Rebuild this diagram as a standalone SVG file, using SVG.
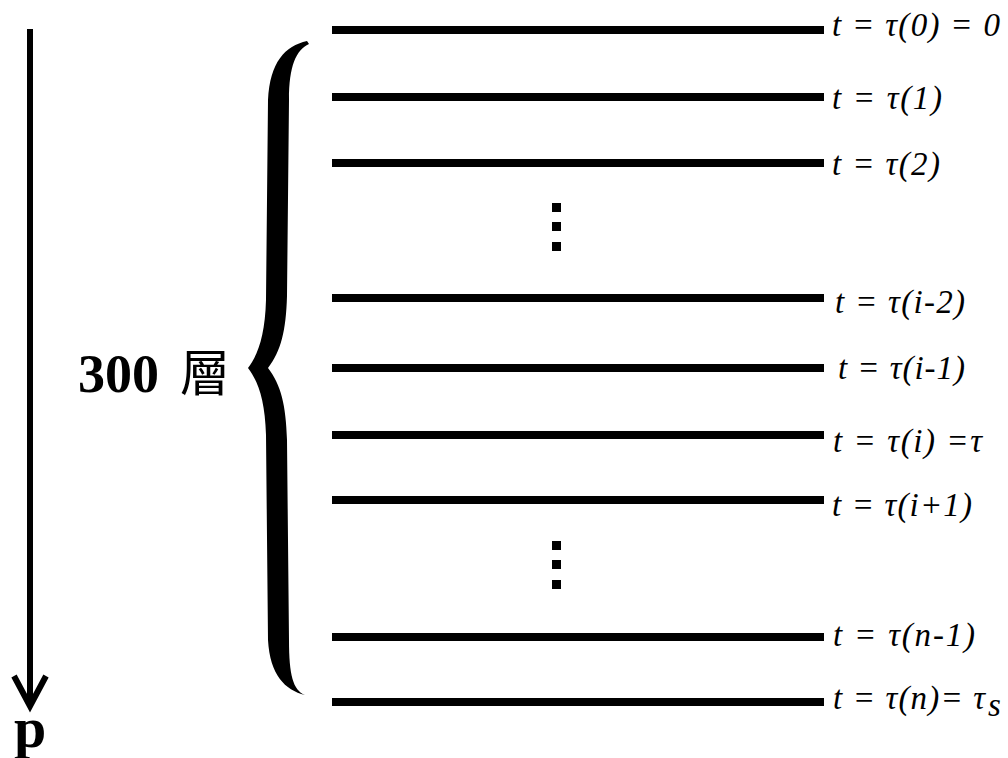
<svg xmlns="http://www.w3.org/2000/svg" width="1008" height="758" viewBox="0 0 1008 758">
<style>
.layer{stroke:#000;stroke-width:8;}
.lbl{font-family:"Liberation Serif","Times New Roman",serif;font-style:italic;font-size:33px;fill:#000;}
.dot{fill:#000;}
</style>
<rect width="1008" height="758" fill="#fff"/>
<g id="axis">
<line x1="30" y1="29" x2="30" y2="705" stroke="#000" stroke-width="6"/>
<polyline points="14,676 30,706 46,676" fill="none" stroke="#000" stroke-width="6"/>
<text x="14" y="747" font-family="Liberation Serif,serif" font-weight="bold" font-size="58">p</text>
</g>
<g id="brace">
<path d="M307,41 C285,46 270,62 268,100 L266,300 C265,335 258,355 248,368 C258,381 265,400 266,435 L268,640 C270,675 285,690 305,695 C293,690 289,675 289,640 L287,440 C286,405 281,385 268,368 C281,351 286,331 287,296 L289,100 C289,66 296,50 309,44 Z" fill="#000"/>
<text x="78" y="392" font-family="Liberation Serif,serif" font-weight="bold" font-size="54">300</text>
<text x="180" y="391" font-family="Noto Sans CJK TC,Noto Sans CJK SC,sans-serif" font-size="50">層</text>
</g>
<g id="connectors">
<line class="layer" x1="332" y1="30" x2="824" y2="30"/>
<line class="layer" x1="332" y1="97" x2="824" y2="97"/>
<line class="layer" x1="332" y1="163" x2="824" y2="163"/>
<line class="layer" x1="332" y1="298" x2="824" y2="298"/>
<line class="layer" x1="332" y1="368" x2="824" y2="368"/>
<line class="layer" x1="332" y1="435" x2="824" y2="435"/>
<line class="layer" x1="332" y1="500" x2="824" y2="500"/>
<line class="layer" x1="332" y1="637" x2="824" y2="637"/>
<line class="layer" x1="332" y1="702" x2="824" y2="702"/>
</g>
<g id="dots1">
<rect class="dot" x="552" y="203" width="9" height="9"/>
<rect class="dot" x="552" y="222" width="9" height="9"/>
<rect class="dot" x="552" y="242" width="9" height="9"/>
</g>
<g id="dots2">
<rect class="dot" x="552" y="541" width="9" height="9"/>
<rect class="dot" x="552" y="560" width="9" height="9"/>
<rect class="dot" x="552" y="580" width="9" height="9"/>
</g>
<g id="labels">
<text id="l0" class="lbl" x="832" y="36" textLength="168" lengthAdjust="spacing">t = τ(0) = 0</text>
<text id="l1" class="lbl" x="832" y="109" textLength="110" lengthAdjust="spacing">t = τ(1)</text>
<text id="l2" class="lbl" x="832" y="175" textLength="108" lengthAdjust="spacing">t = τ(2)</text>
<text id="l3" class="lbl" x="835" y="313" textLength="130" lengthAdjust="spacing">t = τ(i-2)</text>
<text id="l4" class="lbl" x="838" y="379" textLength="127" lengthAdjust="spacing">t = τ(i-1)</text>
<text id="l5" class="lbl" x="833" y="452" textLength="149" lengthAdjust="spacing">t = τ(i) =τ</text>
<text id="l6" class="lbl" x="832" y="516" textLength="140" lengthAdjust="spacing">t = τ(i+1)</text>
<text id="l7" class="lbl" x="833" y="646" textLength="142" lengthAdjust="spacing">t = τ(n-1)</text>
<text id="l8" class="lbl" x="833" y="709" textLength="152" lengthAdjust="spacing">t = τ(n)= τ</text>
<text class="lbl" x="988" y="716" font-style="normal" font-family="Liberation Sans,sans-serif" font-size="24">s</text>
</g>
</svg>
